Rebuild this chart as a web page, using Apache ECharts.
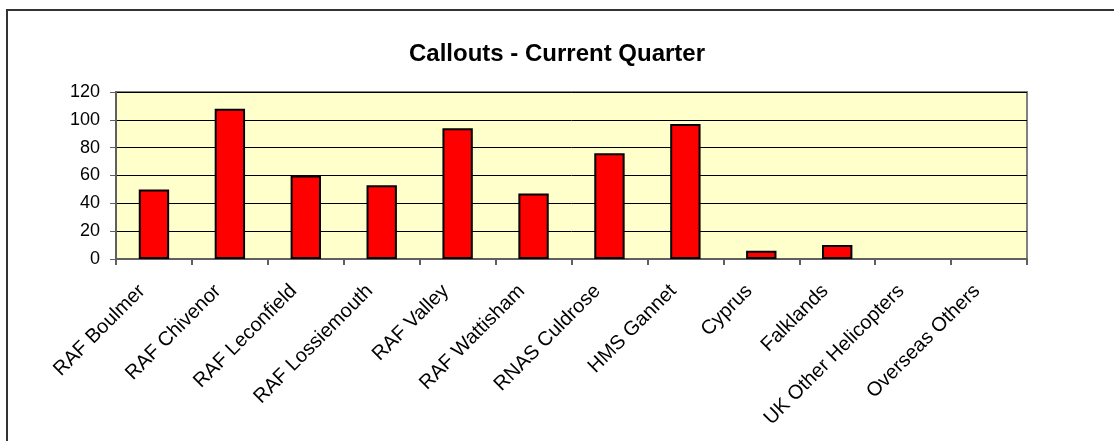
<!DOCTYPE html>
<html>
<head>
<meta charset="utf-8">
<script src="https://cdn.jsdelivr.net/npm/echarts@6/dist/echarts.min.js"></script>
<style>
    html, body { margin: 0; padding: 0; background: #fff; }
    #callouts-chart { width: 1114px; height: 441px; }
</style>
</head>
<body>
<div id="callouts-chart"></div>
<script>
    // categories and callout counts for the current quarter
    const stations = ['RAF Boulmer', 'RAF Chivenor', 'RAF Leconfield', 'RAF Lossiemouth',
        'RAF Valley', 'RAF Wattisham', 'RNAS Culdrose', 'HMS Gannet', 'Cyprus',
        'Falklands', 'UK Other Helicopters', 'Overseas Others']
    const callouts = [50, 108, 60, 53, 94, 47, 76, 97, 6, 10, 0, 0]
    const yTicks = [0, 20, 40, 60, 80, 100, 120]

    let chart = echarts.init(document.getElementById('callouts-chart'))

    // zero bars: no outline, so nothing is drawn for them
    let barData = callouts.map(v => v === 0 ? {value: v, itemStyle: {borderWidth: 0}} : v)

    let chartOption = {
        backgroundColor: '#ffffff',
        animation: false,
        title: {
            text: 'Callouts - Current Quarter',
            left: 'center',
            top: 37,
            textStyle: {
                fontFamily: 'Liberation Sans, Arial',
                fontSize: 24,
                fontWeight: 'bold',
                color: '#000'
            }
        },
        graphic: [
            // outer chart frame (only top/left edges fall inside the picture)
            {
                type: 'rect',
                shape: {x: 7, y: 10, width: 1200, height: 500},
                style: {fill: 'none', stroke: '#333', lineWidth: 2},
                z: 100
            }
        ],
        grid: {
            left: 116,
            right: 87,
            top: 92,
            bottom: 182,
            show: true,
            backgroundColor: '#FFFFCC',
            borderColor: '#808080',
            borderWidth: 2
        },
        xAxis: {
            type: 'category',
            data: stations,
            axisLine: {lineStyle: {color: '#606060', width: 2}},
            axisTick: {show: true, alignWithLabel: false, length: 6, lineStyle: {color: '#606060', width: 2}},
            axisLabel: {
                interval: 0,
                rotate: 45,
                margin: 17,
                padding: [0, 17, 0, 0],
                fontFamily: 'Liberation Sans, Arial',
                fontSize: 20,
                color: '#000'
            }
        },
        yAxis: {
            type: 'value',
            min: yTicks[0],
            max: yTicks[yTicks.length - 1],
            interval: 20,
            axisLine: {show: true, lineStyle: {color: '#606060', width: 2}},
            axisTick: {show: true, length: 6, lineStyle: {color: '#606060', width: 1}},
            axisLabel: {
                margin: 16,
                fontFamily: 'Liberation Sans, Arial',
                fontSize: 18,
                color: '#000'
            },
            splitLine: {lineStyle: {color: '#000', width: 1}}
        },
        series: [
            {
                name: 'Callouts',
                type: 'bar',
                data: barData,
                barWidth: '40%',
                itemStyle: {
                    color: '#FF0000',
                    borderColor: '#000',
                    borderWidth: 2
                }
            }
        ]
    }

    chart.setOption(chartOption)
</script>
</body>
</html>
